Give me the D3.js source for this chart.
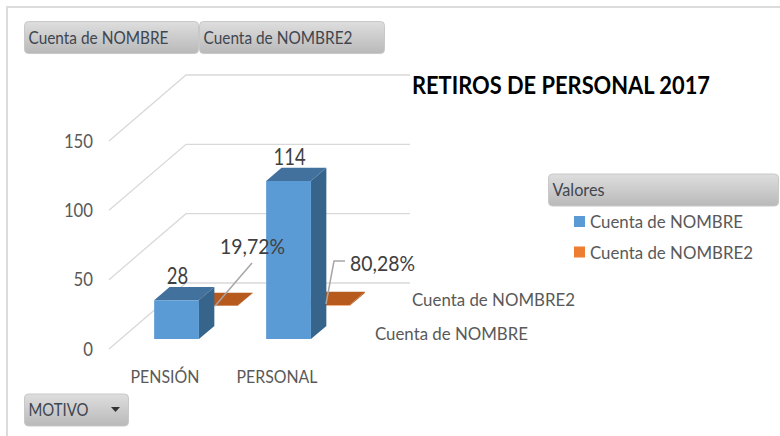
<!DOCTYPE html>
<html>

<head>
    <meta charset="utf-8">
    <title>Retiros de personal 2017</title>
    <style>
        html, body { margin: 0; background: #fff; }
        svg { display: block; font-family: Lato, "Open Sans", sans-serif; }
        .axis path, .axis line { display: none; }
        .axis text { font-family: Lato, "Open Sans", sans-serif; fill: #595959; }
    </style>
</head>

<body>
    <div id="chart"></div>
    <script src="https://cdn.jsdelivr.net/npm/d3@7"></script>
    <script>
        (function (d3) {
            'use strict';

            var categories = ['PENSIÓN', 'PERSONAL'];
            var seriesNames = ['Cuenta de NOMBRE', 'Cuenta de NOMBRE2'];
            var cuentaNombre = [28, 114];
            var cuentaNombre2 = [0.1972, 0.8028];
            var percentLabels = ['19,72%', '80,28%'];
            var yTicks = [0, 50, 100, 150];
            var seriesColors = ['#5b9bd5', '#ed7d31'];

            var width = 780;
            var height = 436;
            var depthX = 77;   // how far the floor runs right, going back
            var depthY = -66;  // and up

            var svg = d3.select('#chart').append('svg')
                .attr('width', width)
                .attr('height', height);

            var defs = svg.append('defs');
            var grad = defs.append('linearGradient')
                .attr('id', 'btn').attr('x1', 0).attr('y1', 0).attr('x2', 0).attr('y2', 1);
            grad.append('stop').attr('offset', '0%').attr('stop-color', '#dedede');
            grad.append('stop').attr('offset', '100%').attr('stop-color', '#b9b9b9');

            var x = d3.scaleBand().domain(categories).range([109, 333])
                .paddingInner(0.6).paddingOuter(0.3);
            var y = d3.scaleLinear().domain([0, 150]).range([349, 141]);
            var z = d3.scaleBand().domain(seriesNames).range([0, 1])
                .paddingInner(0.6).paddingOuter(0.3);

            // screen position of (px along x, value, depth 0..1)
            function project(px, v, d) {
                return [px + d * depthX, y(v) + d * depthY];
            }
            function poly(points) {
                return points.map(function (p) { return p.join(','); }).join(' ');
            }
            // the original font is narrower than Lato, squeeze to the read width
            function squeeze(sel, w) {
                sel.attr('textLength', w).attr('lengthAdjust', 'spacingAndGlyphs');
            }

            // chart frame
            svg.append('path')
                .attr('d', 'M7,436V7H780')
                .attr('fill', 'none')
                .attr('stroke', '#dcdcdc')
                .attr('stroke-width', 2);

            // gridlines, floor side then back wall
            svg.append('g').selectAll('polyline')
                .data(yTicks)
                .enter()
                .append('polyline')
                .attr('fill', 'none')
                .attr('stroke', '#d9d9d9')
                .attr('stroke-width', 1.3)
                .attr('points', function (d) {
                    return poly([project(109, d, 0), project(109, d, 1), project(333, d, 1)]);
                });

            // y axis and category labels
            svg.append('g')
                .attr('class', 'axis')
                .attr('transform', 'translate(99,2.5)')
                .call(d3.axisLeft(y).tickValues(yTicks).tickSize(0).tickPadding(6))
                .call(function (g) {
                    g.selectAll('text').attr('font-size', 19).attr('dy', '0.2em')
                        .each(function () { squeeze(d3.select(this), this.textContent.length * 9.7); });
                })
                .call(function (g) { g.select('.domain').remove(); });

            svg.append('g')
                .attr('class', 'axis')
                .attr('transform', 'translate(0,369)')
                .call(d3.axisBottom(x).tickSize(0).tickPadding(0))
                .call(function (g) { g.selectAll('text').attr('font-size', 17).attr('dy', '0.8em'); })
                .call(function (g) {
                    squeeze(g.selectAll('text').filter(function (d) { return d === categories[0]; }), 69);
                    squeeze(g.selectAll('text').filter(function (d) { return d === categories[1]; }), 81);
                })
                .call(function (g) { g.select('.domain').remove(); });

            // 3D column: front, top, side
            function column(px, v, name, front, top, side) {
                var w = x.bandwidth();
                var d0 = z(name);
                var d1 = d0 + z.bandwidth();
                var g = svg.append('g');
                g.append('polygon').attr('fill', side).attr('points', poly([
                    project(px + w, 0, d0), project(px + w, v, d0),
                    project(px + w, v, d1), project(px + w, 0, d1)
                ]));
                g.append('polygon').attr('fill', top).attr('points', poly([
                    project(px, v, d0), project(px + w, v, d0),
                    project(px + w, v, d1), project(px, v, d1)
                ]));
                g.append('polygon').attr('fill', front).attr('points', poly([
                    project(px, 0, d0), project(px + w, 0, d0),
                    project(px + w, v, d0), project(px, v, d0)
                ]));
            }

            // back row first so the blue columns cover the slabs
            categories.forEach(function (c, i) {
                column(x(c), cuentaNombre2[i], seriesNames[1], '#f4b183', '#b65a1e', '#b65a1e');
            });
            categories.forEach(function (c, i) {
                column(x(c), cuentaNombre[i], seriesNames[0], seriesColors[0], '#41719c', '#37648b');
            });

            // value labels above the blue columns
            var valueLabels = svg.append('g');
            categories.forEach(function (c, i) {
                var p = project(x(c) + x.bandwidth() / 2, cuentaNombre[i], z(seriesNames[0]));
                valueLabels.append('text')
                    .attr('x', p[0] + 1)
                    .attr('y', p[1] - 16)
                    .attr('text-anchor', 'middle')
                    .attr('font-size', 23)
                    .attr('fill', '#404040')
                    .call(squeeze, String(cuentaNombre[i]).length * 10.7)
                    .text(cuentaNombre[i]);
            });

            // leader lines and percent labels
            svg.append('polyline').attr('fill', 'none').attr('stroke', '#a6a6a6').attr('stroke-width', 1.5)
                .attr('points', '215,306 252,263');
            svg.append('polyline').attr('fill', 'none').attr('stroke', '#a6a6a6').attr('stroke-width', 1.5)
                .attr('points', '326,304 334,261 345,261');
            [[220, 254], [350, 271]].forEach(function (pos, i) {
                svg.append('text')
                    .attr('x', pos[0]).attr('y', pos[1])
                    .attr('font-size', 22)
                    .attr('fill', '#404040')
                    .call(squeeze, 65)
                    .text(percentLabels[i]);
            });

            // series names along the depth axis
            [[375, 339.5, 0, 153], [412, 305.5, 1, 163]].forEach(function (pos) {
                svg.append('text')
                    .attr('x', pos[0]).attr('y', pos[1])
                    .attr('font-size', 17)
                    .attr('fill', '#595959')
                    .call(squeeze, pos[3])
                    .text(seriesNames[pos[2]]);
            });

            // title
            svg.append('text')
                .attr('x', 412).attr('y', 94)
                .attr('font-size', 25)
                .attr('font-weight', 700)
                .attr('fill', '#000')
                .call(squeeze, 298)
                .text('RETIROS DE PERSONAL 2017');

            // pivot field buttons
            function button(bx, by, w, h, label, labelWidth) {
                var g = svg.append('g');
                g.append('rect')
                    .attr('x', bx).attr('y', by)
                    .attr('width', w).attr('height', h)
                    .attr('rx', 4)
                    .attr('fill', 'url(#btn)')
                    .attr('stroke', '#c8c8c8');
                g.append('text')
                    .attr('x', bx + 4).attr('y', by + h / 2 + 6)
                    .attr('font-size', 17)
                    .attr('fill', '#3f4650')
                    .call(squeeze, labelWidth)
                    .text(label);
                return g;
            }
            button(24.5, 21.5, 174, 32, seriesNames[0], 140);
            button(199.5, 21.5, 185, 32, seriesNames[1], 149);
            button(548.5, 174, 230, 32, 'Valores', 52);
            button(24.5, 394, 104, 32, 'MOTIVO', 60);
            svg.append('path').attr('d', 'M111,407h9l-4.5,5z').attr('fill', '#333');

            // legend
            var legendWidths = [153, 163];
            var legend = svg.append('g').selectAll('g')
                .data(seriesNames)
                .enter()
                .append('g')
                .attr('transform', function (d, i) { return 'translate(574,' + (216 + i * 30.5) + ')'; });
            legend.append('rect')
                .attr('width', 11).attr('height', 11)
                .attr('fill', function (d, i) { return seriesColors[i]; });
            legend.append('text')
                .attr('x', 16).attr('y', 12)
                .attr('font-size', 18)
                .attr('fill', '#595959')
                .attr('lengthAdjust', 'spacingAndGlyphs')
                .attr('textLength', function (d, i) { return legendWidths[i]; })
                .text(function (d) { return d; });
        })(window.d3);
    </script>
</body>

</html>
